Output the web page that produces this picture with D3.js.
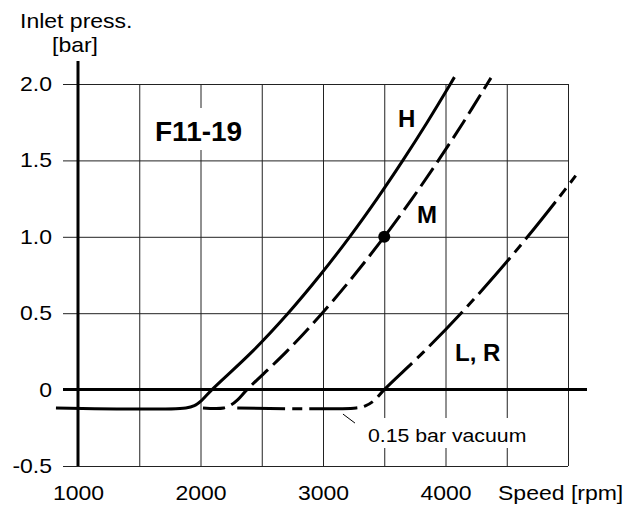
<!DOCTYPE html>
<html>
<head>
<meta charset="utf-8">
<script src="https://cdn.jsdelivr.net/npm/d3@7"></script>
<style>
  body { margin: 0; background: #fff; }
  text { font-family: "Liberation Sans", Arial, sans-serif; fill: #000; }
</style>
</head>
<body>
<div id="chart"></div>
<script>
const W = 633, H = 506;
const plot = {left: 78, right: 568, top: 84, bottom: 466};
const sx = 1.15; // the source text is a bit stretched horizontally

// data
const xGridVals = [1000, 1500, 2000, 2500, 3000, 3500, 4000, 4500, 5000];
const xLabelVals = [1000, 2000, 3000, 4000];
const yTicks = [2.0, 1.5, 1.0, 0.5, 0, -0.5];
const yLabels = ["2.0", "1.5", "1.0", "0.5", "0", "-0.5"];

// [rpm, bar]
const curveH = [[820, -0.12], [1880, -0.12], [1950, -0.105], [2010, -0.07], [2094, 0], [2424, 0.25], [2715, 0.5], [2977, 0.75],
    [3218, 1.0], [3442, 1.25], [3652, 1.5], [3851, 1.75], [4040, 2.0], [4073, 2.045]];
const curveM = [[2020, -0.12], [2190, -0.12], [2250, -0.1], [2305, -0.065], [2380, 0], [2704, 0.25], [2993, 0.5], [3256, 0.75],
    [3500, 1.0], [3728, 1.25], [3942, 1.5], [4146, 1.75], [4340, 2.0], [4371, 2.04]];
const curveLR = [[2300, -0.12], [3270, -0.12], [3350, -0.105], [3420, -0.07], [3500, 0], [3826, 0.25], [4127, 0.5], [4407, 0.75],
    [4670, 1.0], [4919, 1.25], [5063, 1.4]];
const designPoint = [3500, 1.0];
const vacuumLeader = [[3163, -0.16], [3261, -0.219]];

const x = d3.scaleLinear().domain([1000, 5000]).range([plot.left, plot.right]);
const y = d3.scaleLinear().domain([-0.5, 2.0]).range([plot.bottom, plot.top]);

const svg = d3.select("#chart").append("svg")
    .attr("width", W)
    .attr("height", H);

// horizontal grid, starting a bit left of the axis like a tick
const yGrid = svg.append("g")
    .attr("transform", "translate(63,0)")
    .call(d3.axisLeft(y).tickValues(yTicks).tickSize(-(plot.right - 63)).tickFormat((d, i) => yLabels[i]));
yGrid.select(".domain").remove();
yGrid.selectAll("line").attr("stroke", "#222").attr("stroke-width", 1);
yGrid.selectAll("text")
    .attr("x", -11 / sx)
    .attr("transform", `scale(${sx},1)`)
    .style("font-size", "20px")
    .style("font-family", "'Liberation Sans', Arial, sans-serif")
    .attr("fill", "#000");

// vertical grid
const xGrid = svg.append("g")
    .attr("transform", `translate(0,${plot.bottom})`)
    .call(d3.axisBottom(x).tickValues(xGridVals).tickSize(-(plot.bottom - plot.top)).tickPadding(20)
        .tickFormat(d => xLabelVals.includes(d) ? d : ""));
xGrid.select(".domain").remove();
xGrid.selectAll("line").attr("stroke", "#222").attr("stroke-width", 1);
xGrid.selectAll("text")
    .attr("transform", `scale(${sx},1)`)
    .style("font-size", "20px")
    .style("font-family", "'Liberation Sans', Arial, sans-serif")
    .attr("fill", "#000");

// white boxes behind the labels that cut the grid
svg.append("rect").attr("x", 150).attr("y", 108).attr("width", 100).attr("height", 42).attr("fill", "#fff");
svg.append("rect").attr("x", 362).attr("y", 418).attr("width", 170).attr("height", 30).attr("fill", "#fff");

// heavy axes
svg.append("line")
    .attr("x1", 63).attr("x2", 587)
    .attr("y1", y(0)).attr("y2", y(0))
    .attr("stroke", "#000").attr("stroke-width", 3);
svg.append("line")
    .attr("x1", x(1000)).attr("x2", x(1000))
    .attr("y1", 61).attr("y2", plot.bottom)
    .attr("stroke", "#000").attr("stroke-width", 3);

const line = d3.line()
    .x(d => x(d[0]))
    .y(d => y(d[1]))
    .curve(d3.curveCatmullRom.alpha(0.5));

svg.append("path").datum(curveH)
    .attr("d", line)
    .attr("fill", "none").attr("stroke", "#000").attr("stroke-width", 3);

svg.append("path").datum(curveM)
    .attr("d", line)
    .attr("fill", "none").attr("stroke", "#000").attr("stroke-width", 3)
    .attr("stroke-dasharray", "22,7");

svg.append("path").datum(curveLR)
    .attr("d", line)
    .attr("fill", "none").attr("stroke", "#000").attr("stroke-width", 3)
    .attr("stroke-dasharray", "48,7,10,7");

svg.append("circle")
    .attr("cx", x(designPoint[0]))
    .attr("cy", y(designPoint[1]))
    .attr("r", 6)
    .attr("fill", "#000");

// leader for the vacuum note
svg.append("line")
    .attr("x1", x(vacuumLeader[0][0])).attr("y1", y(vacuumLeader[0][1]))
    .attr("x2", x(vacuumLeader[1][0])).attr("y2", y(vacuumLeader[1][1]))
    .attr("stroke", "#000").attr("stroke-width", 1);

function label(px, py, str, size, bold, stretch) {
    svg.append("text")
        .attr("transform", `translate(${px},${py}) scale(${stretch},1)`)
        .style("font-size", size + "px")
        .style("font-weight", bold ? "bold" : "normal")
        .text(str);
}

label(20, 28, "Inlet press.", 20, false, sx);
label(52, 52, "[bar]", 20, false, sx);
label(498, 500, "Speed [rpm]", 20, false, sx);
label(368, 442, "0.15 bar vacuum", 18.5, false, sx);

label(155, 141, "F11-19", 28, true, 1);
label(398, 127, "H", 24, true, 1);
label(417, 223, "M", 24, true, 1);
label(455, 361, "L, R", 24, true, 1);
</script>
</body>
</html>
